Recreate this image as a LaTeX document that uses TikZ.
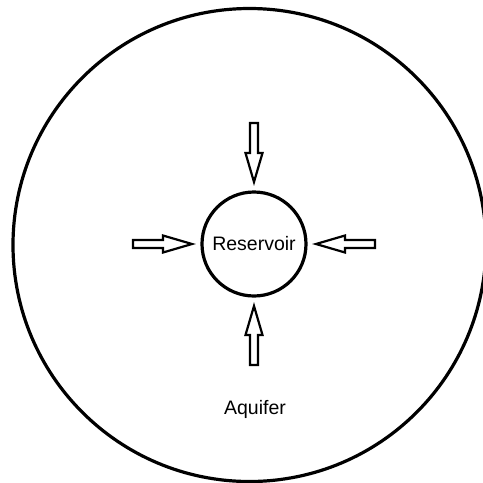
\documentclass[tikz,border=0pt]{standalone}
\usepackage{fontspec}
\setmainfont{Liberation Sans}
\usetikzlibrary{positioning}

\tikzset{
  ring/.style={draw=black, line width=3.2pt, circle, inner sep=0pt},
  flowarrow/.style={draw=black, line width=2.2pt, fill=white, line join=miter},
  label/.style={font=\fontsize{19.5}{19.5}\selectfont}
}

\begin{document}
\begin{tikzpicture}[x=1pt, y=-1pt]
  % canvas
  \useasboundingbox (0,0) rectangle (483,483);
  \clip (0,0) rectangle (483,483);

  % Aquifer (outer ring)
  \node[ring, minimum size=473pt] (aquifer) at (249.5,245) {};

  % Reservoir (inner ring)
  \node[ring, minimum size=104pt, label] (reservoir) at (254,244) {Reservoir};

  % Influx arrows pointing at the reservoir
  \foreach \ang in {0,90,180,270} {
    \begin{scope}[shift={(reservoir.center)}, rotate=\ang]
      \draw[flowarrow] (62,0) -- (91,8.5) -- (91,4) -- (121,4)
        -- (121,-4) -- (91,-4) -- (91,-8.5) -- cycle;
    \end{scope}
  }

  \node[label] (aqlabel) at (255,409) {Aquifer};
\end{tikzpicture}
\end{document}
